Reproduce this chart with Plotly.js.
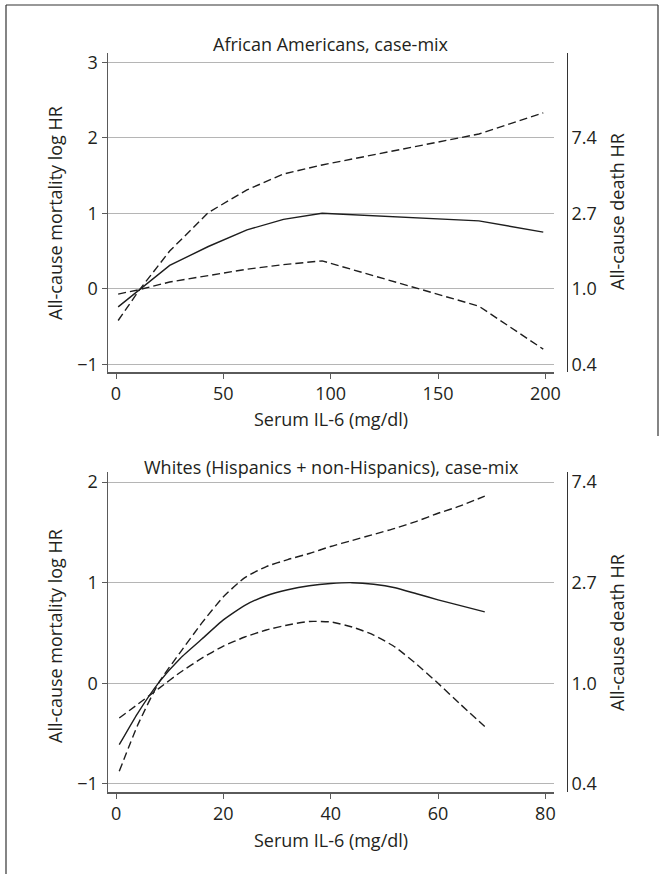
<!DOCTYPE html>
<html>
<head>
<meta charset="utf-8">
<script src="https://cdn.plot.ly/plotly-3.0.1.min.js"></script>
<style>html,body{margin:0;padding:0;background:#fff;}#chart{width:661px;height:874px;}</style>
</head>
<body>
<div id="chart"></div>
<script>
// ---- Data ----
// Panel A: African Americans, case-mix
const aaX      = [1, 11, 25, 43, 61, 78, 96, 169, 199];
const aaLogHR  = [-0.24, -0.01, 0.31, 0.56, 0.78, 0.92, 1.00, 0.90, 0.75];
const aaUpper  = [-0.42, -0.01, 0.50, 1.01, 1.31, 1.52, 1.64, 2.05, 2.33];
const aaLower  = [-0.07, -0.01, 0.09, 0.18, 0.26, 0.32, 0.37, -0.23, -0.80];

// Panel B: Whites (Hispanics + non-Hispanics), case-mix
const whX      = [0.6, 4, 8, 12, 16, 20, 24, 28, 32, 36, 40, 44, 48, 52, 56, 60, 64, 68.7];
const whLogHR  = [-0.61, -0.30, 0.01, 0.25, 0.44, 0.63, 0.775, 0.87, 0.93, 0.97, 0.992, 1.0, 0.985, 0.95, 0.89, 0.83, 0.775, 0.71];
const whUpper  = [-0.875, -0.42, 0.01, 0.31, 0.60, 0.86, 1.05, 1.16, 1.23, 1.29, 1.36, 1.42, 1.48, 1.54, 1.61, 1.69, 1.76, 1.86];
const whLower  = [-0.345, -0.21, -0.05, 0.11, 0.25, 0.37, 0.46, 0.53, 0.58, 0.615, 0.61, 0.56, 0.48, 0.36, 0.19, 0.0, -0.20, -0.43];

// Tick labels
const aaXTicks   = [0, 50, 100, 150, 200];
const whXTicks   = [0, 20, 40, 60, 80];
const aaYTicks   = [-1, 0, 1, 2, 3];
const whYTicks   = [-1, 0, 1, 2];
const hrTickVals = [-1, 0, 1, 2];
const hrTickText = ['0.4', '1.0', '2.7', '7.4'];

const titleA = 'African Americans, case-mix';
const titleB = 'Whites (Hispanics + non-Hispanics), case-mix';
const xTitle = 'Serum IL-6 (mg/dl)';
const yTitleL = 'All-cause mortality log HR';
const yTitleR = 'All-cause death HR';

// ---- Styling ----
const W = 661, H = 874;
const FONT = 'Open Sans, Noto Sans, sans-serif';
const TXT = '#231f20';
const LINE = '#1e1e1e';
const AXC = '#5a5a5a';
const GRID = '#b5b5b5';
const FS = 18;
const px = v => v / W;
const py = v => 1 - v / H;

function curve(x, y, xa, ya, dashed, smooth) {
  return {
    x: x, y: y, xaxis: xa, yaxis: ya, type: 'scatter', mode: 'lines',
    line: {color: LINE, width: 1.4, dash: dashed ? '8px,4px' : 'solid',
           shape: smooth ? 'spline' : 'linear', smoothing: smooth ? 0.5 : 1},
    hoverinfo: 'skip', showlegend: false
  };
}

const data = [
  curve(aaX, aaUpper, 'x', 'y', true, false),
  curve(aaX, aaLower, 'x', 'y', true, false),
  curve(aaX, aaLogHR, 'x', 'y', false, false),
  curve(whX, whUpper, 'x2', 'y2', true, true),
  curve(whX, whLower, 'x2', 'y2', true, true),
  curve(whX, whLogHR, 'x2', 'y2', false, true)
];

const xDom = [px(107.7), px(554)];
const tickFont = {family: FONT, size: FS, color: TXT};

function xAxis(range, ticks, anchor) {
  return {
    domain: xDom, range: range, anchor: anchor, tickvals: ticks,
    ticks: 'outside', ticklen: 5, tickcolor: AXC, tickwidth: 1,
    showline: true, linecolor: AXC, linewidth: 1.2,
    showgrid: false, zeroline: false, tickfont: tickFont, fixedrange: true
  };
}
function yAxis(range, ticks, dom, anchor) {
  return {
    domain: dom, range: range, anchor: anchor, tickvals: ticks,
    ticks: 'outside', ticklen: 5, tickcolor: AXC, tickwidth: 1,
    showline: true, linecolor: AXC, linewidth: 1.2,
    showgrid: true, gridcolor: GRID, gridwidth: 1,
    zeroline: false, tickfont: tickFont, fixedrange: true
  };
}
function hrAxis(range, over) {
  return {
    overlaying: over, side: 'right', anchor: 'free', position: px(566.7),
    range: range, tickvals: hrTickVals, ticktext: hrTickText,
    ticks: '', showline: true, linecolor: '#333', linewidth: 1.2,
    showgrid: false, zeroline: false, tickfont: tickFont, fixedrange: true
  };
}

const yDomA = [py(372.3), py(53)];
const yDomB = [py(792.3), py(472)];
const yRangeA = [-1.106, 3.123];
const yRangeB = [-1.083, 2.10];

function ann(text, x, y, rot) {
  return {
    text: text, x: x, y: y, xref: 'paper', yref: 'paper',
    xanchor: 'center', yanchor: 'middle', showarrow: false,
    textangle: rot || 0, font: {family: FONT, size: FS, color: TXT}
  };
}

const layout = {
  width: W, height: H,
  margin: {l: 0, r: 0, t: 0, b: 0, pad: 0},
  paper_bgcolor: '#fff', plot_bgcolor: 'rgba(0,0,0,0)',
  showlegend: false,
  xaxis: xAxis([-3.87, 204], aaXTicks, 'y'),
  yaxis: yAxis(yRangeA, aaYTicks, yDomA, 'x'),
  yaxis3: hrAxis(yRangeA, 'y'),
  xaxis2: xAxis([-1.55, 81.6], whXTicks, 'y2'),
  yaxis2: yAxis(yRangeB, whYTicks, yDomB, 'x2'),
  yaxis4: hrAxis(yRangeB, 'y2'),
  annotations: [
    ann(titleA, px(331), py(43.5), 0),
    ann(xTitle, px(331), py(419), 0),
    ann(yTitleL, px(55), py(213), -90),
    ann(yTitleR, px(617), py(212), -90),
    ann(titleB, px(331), py(467), 0),
    ann(xTitle, px(331), py(840), 0),
    ann(yTitleL, px(55), py(636), -90),
    ann(yTitleR, px(617), py(633), -90)
  ],
  shapes: [
    {type: 'line', xref: 'paper', yref: 'paper', x0: px(6), x1: px(6), y0: 0, y1: py(5), line: {color: '#333', width: 1.2}},
    {type: 'line', xref: 'paper', yref: 'paper', x0: px(6), x1: px(658), y0: py(5), y1: py(5), line: {color: '#333', width: 1.2}},
    {type: 'line', xref: 'paper', yref: 'paper', x0: px(658), x1: px(658), y0: py(5), y1: py(436), line: {color: '#333', width: 1.2}}
  ]
};

// Invisible anchor points so the right-hand HR axes are drawn
data.push({x: [aaX[0]], y: [aaLogHR[0]], xaxis: 'x', yaxis: 'y3', type: 'scatter', mode: 'markers', marker: {opacity: 0}, hoverinfo: 'skip', showlegend: false});
data.push({x: [whX[0]], y: [whLogHR[0]], xaxis: 'x2', yaxis: 'y4', type: 'scatter', mode: 'markers', marker: {opacity: 0}, hoverinfo: 'skip', showlegend: false});

Plotly.newPlot('chart', data, layout, {displayModeBar: false, staticPlot: true});
</script>
</body>
</html>
